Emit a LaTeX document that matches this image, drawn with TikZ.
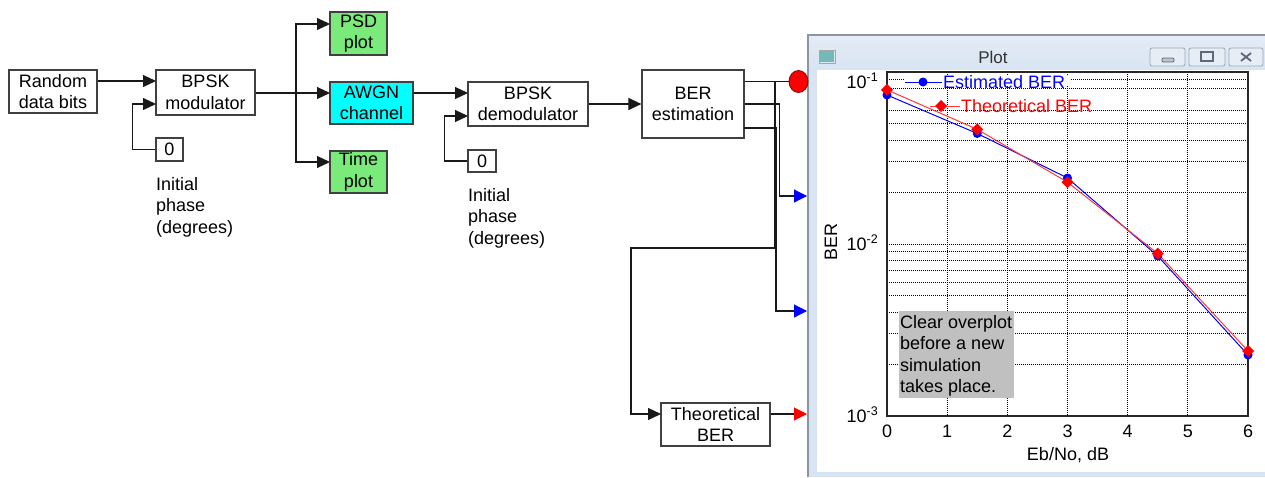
\documentclass[tikz,border=0pt]{standalone}
\usepackage{fontspec}
\setmainfont{Liberation Sans}
\usetikzlibrary{arrows.meta,shapes.geometric,calc}
\definecolor{boxgray}{HTML}{404040}
\definecolor{lgreen}{HTML}{7AEA7A}
\definecolor{cyanc}{HTML}{00FFFF}
\definecolor{winblue}{HTML}{D8E4F2}
\definecolor{wintop}{HTML}{E4ECF5}
\definecolor{winedge}{HTML}{8C96A2}
\definecolor{btnfill}{HTML}{E6EDF5}
\definecolor{btnedge}{HTML}{9AA8BA}
\definecolor{glyphc}{HTML}{5C6A7A}
\definecolor{noteg}{HTML}{C0C0C0}
\definecolor{redline}{HTML}{FF3A3A}
\begin{document}
\begin{tikzpicture}[x=1pt,y=-1pt,
  txt/.style={font=\fontsize{18}{21.5}\selectfont},
  blk/.style={txt,draw=boxgray,line width=1.2pt,fill=white,inner sep=0pt,align=center},
  conn/.style={draw=black!90,line width=1.1pt},
  arr/.style={conn,-{Triangle[length=13pt,width=12pt]}},
  barr/.style={conn,-{Triangle[length=13pt,width=13pt,color=blue]}},
  rarr/.style={conn,-{Triangle[length=13pt,width=13pt,color=red]}},
  gridl/.style={black,line width=1pt,dash pattern=on 1pt off 1pt},
  lbl/.style={txt,inner sep=0pt},
  btn/.style={draw=btnedge,fill=btnfill,rounded corners=2pt,line width=0.8pt},
 ]
\useasboundingbox (0,0) rectangle (1265,477);

% ---------- plot window ----------
\fill[winblue] (808,35) rectangle (1265,477);
\shade[top color=wintop,bottom color=winblue] (808,35) rectangle (1265,70);
\fill[white] (817,70) rectangle (1265,472);
\draw[winedge,line width=1.2pt] (808,477) -- (808,35) -- (1265,35);
% title bar
\fill[teal!55] (820,51) rectangle (834,62);
\draw[gray!70,line width=0.6pt] (819,50) rectangle (835,63);
\node[lbl,font=\fontsize{17}{20}\selectfont,text=black!80,anchor=base] (ttl) at (993,63) {Plot};
\draw[btn] (1150,48) rectangle (1185,66);
\draw[btn] (1189,48) rectangle (1225,66);
\draw[btn] (1229,48) rectangle (1263,66);
\draw[glyphc,fill=glyphc!40,rounded corners=1pt,line width=0.8pt] (1162,58) rectangle (1174,62);
\draw[glyphc,line width=1.2pt] (1201,52) rectangle (1213,61);
\draw[glyphc,line width=1.8pt] (1241,53) -- (1251,61) (1241,61) -- (1251,53);

% grid
\foreach \k in {1,...,5}
  \draw[gridl] ({887+60.1667*\k},72) -- ({887+60.1667*\k},416);
\foreach \m in {2,3,4,5,6,8,9}
  \draw[gridl] (887,{244-172*log10(\m)}) -- (1248,{244-172*log10(\m)});
\draw[gridl] (887,244) -- (1248,244);
\foreach \m in {2,...,9}
  \draw[gridl] (887,{416-172*log10(\m)}) -- (1248,{416-172*log10(\m)});
\fill[white] (904,75) rectangle (1070,86);
% note box
\fill[noteg] (899,311) rectangle (1014,398);
\node[lbl,align=left,anchor=north west] (note) at (900,315) {Clear overplot\\before a new\\simulation\\takes place.};
% axes
\draw[black!85,line width=1.3pt] (887,72) rectangle (1248,416);
% curves
\draw[blue,line width=1pt] (887,95) -- (977.25,133.5) -- (1067.5,178) -- (1157.75,256) -- (1248,355);
\draw[redline,line width=1pt] (887,89.9) -- (977.25,129.3) -- (1067.5,182.2) -- (1157.75,253.6) -- (1248,351);
\foreach \x/\y in {887/95,977.25/133.5,1067.5/178,1157.75/256,1248/355}
  \fill[blue] (\x,\y) circle (4.5);
\foreach \x/\y in {887/89.9,977.25/129.3,1067.5/182.2,1157.75/253.6,1248/351}
  \fill[red] (\x-6,\y) -- (\x,\y-6) -- (\x+6,\y) -- (\x,\y+6) -- cycle;
% legend
\draw[blue,line width=1pt] (905,82) -- (942,82);
\fill[blue] (923,82) circle (4.5);
\node[lbl,text=blue,anchor=base west] (leg1) at (943,88) {Estimated BER};
\draw[redline,line width=1pt] (930,106) -- (960,106);
\fill[red] (935,106) -- (941,100) -- (947,106) -- (941,112) -- cycle;
\node[lbl,text=red,anchor=base west] (leg2) at (961,112) {Theoretical BER};
% axis labels
\node[lbl,anchor=base east] (y1) at (878,88) {10\raisebox{7pt}{\fontsize{12.5}{12.5}\selectfont -1}};
\node[lbl,anchor=base east] (y2) at (878,250) {10\raisebox{7pt}{\fontsize{12.5}{12.5}\selectfont -2}};
\node[lbl,anchor=base east] (y3) at (878,422) {10\raisebox{7pt}{\fontsize{12.5}{12.5}\selectfont -3}};
\foreach \k in {0,...,6}
  \node[lbl,anchor=base] at ({887+60.1667*\k},437) {\k};
\node[lbl,anchor=base] (xl) at (1068,460) {Eb/No, dB};
\node[lbl,rotate=90] (yl) at (831,242) {BER};

% ---------- block diagram ----------
\node[blk,minimum width=88pt,minimum height=43pt] (rand) at (53,91.5) {Random\\data bits};
\node[blk,minimum width=99pt,minimum height=45pt] (mod) at (205.5,92.5) {BPSK\\modulator};
\node[blk,minimum width=27pt,minimum height=23pt] (zero1) at (169.5,149.5) {0};
\node[lbl,align=left,anchor=north west] (lab1) at (156,177) {Initial\\phase\\(degrees)};
\node[blk,fill=lgreen,minimum width=57pt,minimum height=43pt] (psd) at (358.5,33.5) {PSD\\plot};
\node[blk,fill=cyanc,minimum width=83pt,minimum height=42pt] (awgn) at (371.5,103) {AWGN\\channel};
\node[blk,fill=lgreen,minimum width=57pt,minimum height=42pt] (time) at (358.5,172) {Time\\plot};
\node[blk,minimum width=120pt,minimum height=44pt] (demod) at (528,104) {BPSK\\demodulator};
\node[blk,minimum width=28pt,minimum height=22pt] (zero2) at (482,161) {0};
\node[lbl,align=left,anchor=north west] (lab2) at (468,188) {Initial\\phase\\(degrees)};
\node[blk,minimum width=102pt,minimum height=68pt] (ber) at (693,104) {BER\\estimation};
\node[blk,minimum width=109pt,minimum height=43pt] (theo) at (715.5,424.5) {Theoretical\\BER};
\node[ellipse,draw=red!50!black,fill=red,line width=0.8pt,minimum width=19pt,minimum height=22pt,inner sep=0pt] (pin) at (798.5,81.5) {};

% ports
\coordinate (m1) at (156,81);
\coordinate (m2) at (156,104);
\coordinate (a1) at (330,93);
\coordinate (br1) at (296,93);
\coordinate (p1) at (330,24);
\coordinate (t1) at (330,162);
\coordinate (d1) at (468,93);
\coordinate (d2) at (468,116);
\coordinate (b1) at (775,81.5);
\coordinate (k1) at (631,248);
\coordinate (th1) at (661,414);
\coordinate (o3) at (744,128);
\coordinate (pb1) at (807,196);
\coordinate (pb2) at (807,311);
\coordinate (pr1) at (807,414);

% connectors
\draw[arr] (rand.east |- m1) -- (m1);
\draw[arr] (zero1.west) -- ++(-23,0) |- (m2);
\draw[arr] (mod.east |- a1) -- (a1);
\draw[arr] (br1) |- (p1);
\draw[arr] (br1) |- (t1);
\draw[arr] (awgn.east |- d1) -- (d1);
\draw[arr] (zero2.west) -- ++(-23,0) |- (d2);
\draw[arr] (demod.east) -- (ber.west);
\draw[conn] (ber.east |- pin) -- (pin.west);
\draw[arr] (b1) |- (k1) |- (th1);
\draw[barr] (ber.east) -- ++(35,0) |- (pb1);
\draw[barr] (o3) -- ++(32,0) |- (pb2);
\draw[rarr] (theo.east |- th1) -- (pr1);
\end{tikzpicture}
\end{document}
